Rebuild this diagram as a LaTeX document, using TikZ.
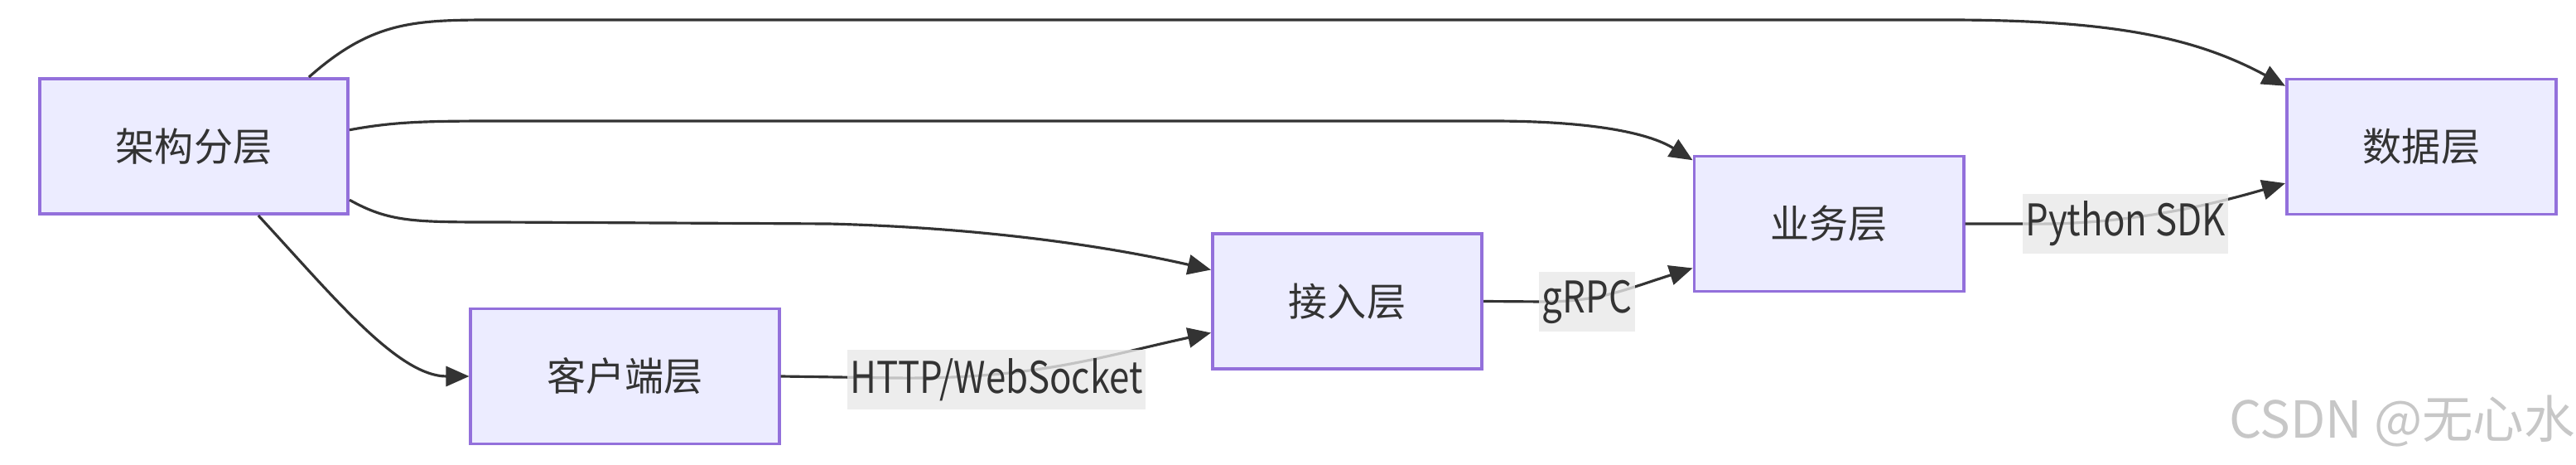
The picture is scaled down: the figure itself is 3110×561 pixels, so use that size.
\documentclass[tikz,border=0pt]{standalone}
\usepackage{fontspec}
\setmainfont{Noto Sans CJK SC}
\newfontfamily\narrowfont[FakeStretch=0.83]{Noto Sans CJK SC}
\usetikzlibrary{arrows.meta}

\definecolor{layerfill}{HTML}{ECECFF}
\definecolor{layerline}{HTML}{9370DB}
\definecolor{linkcol}{HTML}{333333}
\definecolor{labelbg}{HTML}{E8E8E8}

\tikzset{
  layer/.style={draw=layerline, fill=layerfill, line width=1.1pt,
    minimum width=3.25cm, minimum height=1.63cm, inner sep=0pt,
    text=linkcol, font=\fontsize{13.4}{16}\selectfont},
  widelayer/.style={layer, minimum width=3.72cm},
  link/.style={draw=linkcol, line width=0.9pt,
    -{Triangle[length=0.28cm,width=0.24cm]}},
  linklabel/.style={fill=labelbg, fill opacity=0.8, text opacity=1,
    text=linkcol, inner xsep=1pt, inner ysep=0pt, minimum height=0.72cm,
    font=\narrowfont\fontsize{15}{17}\selectfont},
}

\begin{document}
\begin{tikzpicture}[x=0.01cm, y=-0.01cm]
  \useasboundingbox (0,0) rectangle (3110,561);

  % Livelli
  \node[widelayer] (arch) at (234,176.5) {架构分层};
  \node[widelayer] (client) at (754.5,454) {客户端层};
  \node[layer] (access) at (1626.5,363.5) {接入层};
  \node[layer] (business) at (2208,270) {业务层};
  \node[layer] (data) at (2923.5,177) {数据层};

  % Archi da "架构分层"
  \draw[link] (arch.31) .. controls (450,25) and (500,24) .. (600,24)
    -- (2350,24) .. controls (2550,24) and (2650,45) .. (data.156);
  \draw[link] (arch.6.6) .. controls (480,146) and (520,146) .. (620,146)
    -- (1800,146) .. controls (1920,146) and (1990,160) .. (business.155);
  \draw[link] (arch.-19.7) .. controls (470,268) and (500,268) .. (600,268)
    -- (1000,270) .. controls (1200,275) and (1350,300) .. (access.167);
  \draw[link] (arch.-47) .. controls (400,355) and (480,454) .. (client.west);

  % Archi con etichetta
  \draw[link] (client.east) -- (1080,456) .. controls (1250,458) and (1330,430) .. (access.193);
  \node[linklabel] (httplbl) at (1203,458) {HTTP/WebSocket};

  \draw[link] (access.east) -- (1863,364) .. controls (1930,364) and (1960,350) .. (business.198);
  \node[linklabel] (grpclbl) at (1916,364) {gRPC};

  \draw[link] (business.east) -- (2445,270) .. controls (2560,272) and (2660,250) .. (data.195);
  \node[linklabel] (sdklbl) at (2566,270) {Python SDK};

  % Filigrana
  \node[text=black!22, font=\fontsize{17.5}{20}\selectfont] (mark) at (2900,508) {CSDN @无心水};
\end{tikzpicture}
\end{document}
